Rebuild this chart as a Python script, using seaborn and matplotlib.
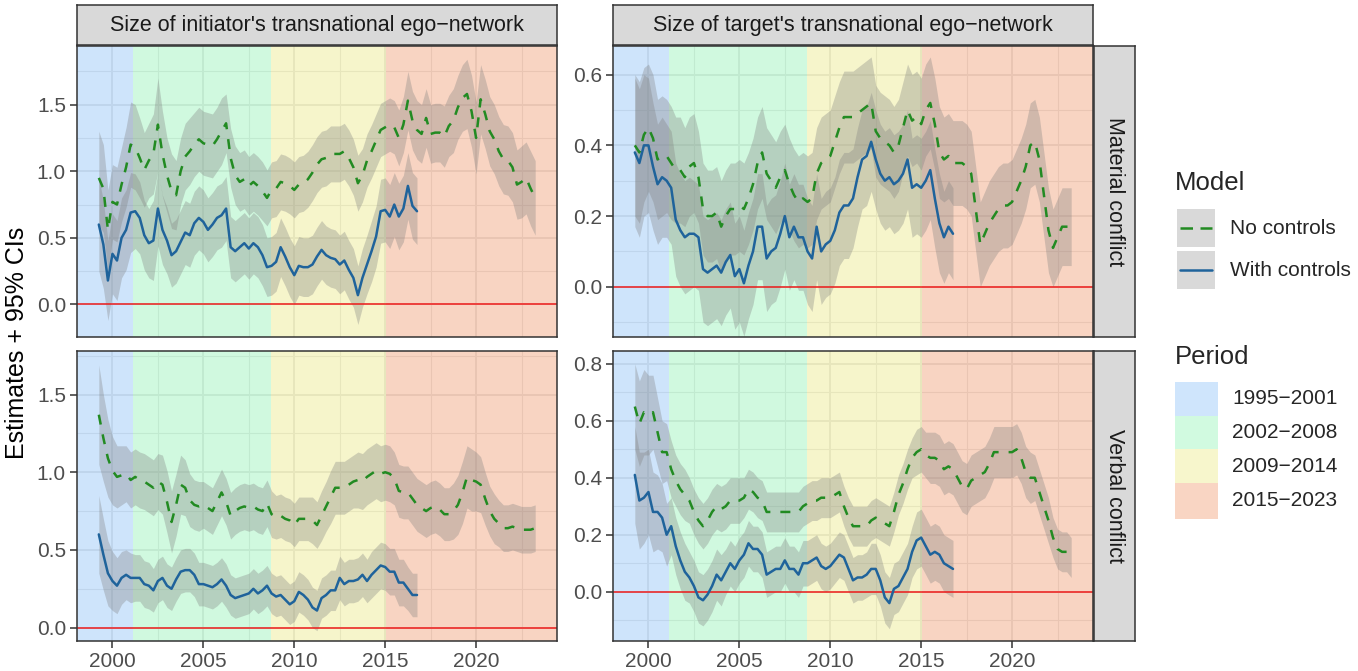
import numpy as np
import pandas as pd
import matplotlib
matplotlib.use("Agg")
import matplotlib.pyplot as plt
import seaborn as sns
from matplotlib.patches import Rectangle
from matplotlib.lines import Line2D
from matplotlib.ticker import FixedLocator, FormatStrFormatter

sns.set_theme(style="white")
plt.rcParams['font.family'] = ['Liberation Sans', 'DejaVu Sans']

# ---------------- data (quarterly estimates) ----------------
start_year = 1999.25
models = ["No controls", "With controls"]
periods = ["1995\u22122001", "2002\u22122008", "2009\u22122014", "2015\u22122023"]
period_breaks = [2001.14, 2008.70, 2015.04]
col_titles = ["Size of initiator's transnational ego\u2212network",
              "Size of target's transnational ego\u2212network"]
row_titles = ["Material conflict", "Verbal conflict"]

# initiator / material conflict
init_mat_noctrl = [0.95, 0.87, 0.56, 0.77, 0.75, 0.90, 1.03, 1.20, 1.18, 1.10,
                   1.01, 1.08, 1.13, 1.35, 1.13, 0.97, 0.85, 0.82, 1.00, 1.11,
                   1.15, 1.20, 1.24, 1.21, 1.20, 1.19, 1.24, 1.30, 1.36, 1.10,
                   0.97, 0.92, 0.94, 0.89, 0.92, 0.89, 0.85, 0.80, 0.86, 0.87,
                   0.92, 0.91, 0.89, 0.86, 0.90, 0.91, 0.94, 0.99, 1.05, 1.09,
                   1.10, 1.13, 1.13, 1.13, 1.15, 1.10, 1.03, 0.91, 0.97, 1.08,
                   1.15, 1.23, 1.31, 1.33, 1.35, 1.33, 1.25, 1.35, 1.53, 1.38,
                   1.31, 1.28, 1.40, 1.28, 1.29, 1.29, 1.26, 1.34, 1.38, 1.48,
                   1.55, 1.58, 1.45, 1.25, 1.54, 1.43, 1.30, 1.24, 1.15, 1.09,
                   1.08, 1.03, 0.90, 0.92, 0.95, 0.87, 0.80]
init_mat_noctrl_hw = [0.35, 0.33, 0.30, 0.28, 0.28, 0.28, 0.30, 0.32, 0.32, 0.30,
                      0.28, 0.28, 0.30, 0.35, 0.32, 0.28, 0.28, 0.26, 0.25, 0.25,
                      0.25, 0.24, 0.24, 0.24, 0.24, 0.24, 0.24, 0.25, 0.22, 0.22,
                      0.22, 0.22, 0.22, 0.22, 0.22, 0.22, 0.22, 0.21, 0.21, 0.21,
                      0.21, 0.21, 0.21, 0.21, 0.21, 0.21, 0.21, 0.21, 0.21, 0.21,
                      0.21, 0.21, 0.21, 0.21, 0.21, 0.21, 0.21, 0.21, 0.20, 0.20,
                      0.20, 0.20, 0.20, 0.20, 0.20, 0.20, 0.21, 0.21, 0.22, 0.22,
                      0.22, 0.22, 0.22, 0.22, 0.22, 0.22, 0.23, 0.23, 0.24, 0.24,
                      0.25, 0.26, 0.27, 0.27, 0.26, 0.26, 0.26, 0.26, 0.26, 0.26,
                      0.26, 0.26, 0.26, 0.27, 0.27, 0.28, 0.28]
init_mat_ctrl = [0.60, 0.45, 0.18, 0.38, 0.33, 0.50, 0.56, 0.69, 0.70, 0.65,
                 0.52, 0.46, 0.48, 0.72, 0.56, 0.48, 0.37, 0.40, 0.47, 0.54,
                 0.52, 0.61, 0.65, 0.62, 0.56, 0.60, 0.65, 0.67, 0.72, 0.43,
                 0.40, 0.43, 0.46, 0.42, 0.46, 0.43, 0.37, 0.28, 0.29, 0.32,
                 0.43, 0.36, 0.28, 0.22, 0.29, 0.28, 0.28, 0.30, 0.36, 0.41,
                 0.37, 0.35, 0.34, 0.30, 0.33, 0.26, 0.20, 0.07, 0.20, 0.30,
                 0.40, 0.51, 0.70, 0.71, 0.66, 0.75, 0.66, 0.72, 0.89, 0.74,
                 0.70]
init_mat_ctrl_hw = [0.35, 0.33, 0.30, 0.30, 0.30, 0.30, 0.30, 0.30, 0.28, 0.27,
                    0.26, 0.26, 0.30, 0.28, 0.26, 0.25, 0.24, 0.24, 0.24, 0.24,
                    0.24, 0.24, 0.24, 0.24, 0.24, 0.24, 0.24, 0.24, 0.24, 0.23,
                    0.23, 0.23, 0.23, 0.23, 0.23, 0.23, 0.23, 0.22, 0.22, 0.22,
                    0.22, 0.22, 0.22, 0.22, 0.22, 0.22, 0.22, 0.22, 0.22, 0.22,
                    0.22, 0.22, 0.22, 0.22, 0.22, 0.22, 0.22, 0.22, 0.22, 0.22,
                    0.23, 0.23, 0.24, 0.24, 0.24, 0.24, 0.25, 0.25, 0.25, 0.25,
                    0.25]

# target / material conflict
targ_mat_noctrl = [0.40, 0.38, 0.43, 0.45, 0.42, 0.36, 0.37, 0.37, 0.35, 0.33,
                   0.33, 0.31, 0.34, 0.35, 0.31, 0.22, 0.20, 0.20, 0.21, 0.17,
                   0.20, 0.22, 0.22, 0.23, 0.22, 0.25, 0.29, 0.35, 0.38, 0.32,
                   0.30, 0.28, 0.31, 0.33, 0.29, 0.26, 0.24, 0.25, 0.24, 0.25,
                   0.32, 0.35, 0.36, 0.37, 0.41, 0.45, 0.48, 0.48, 0.48, 0.49,
                   0.50, 0.51, 0.52, 0.44, 0.42, 0.41, 0.40, 0.38, 0.40, 0.45,
                   0.50, 0.47, 0.48, 0.46, 0.50, 0.52, 0.46, 0.38, 0.36, 0.37,
                   0.35, 0.35, 0.35, 0.34, 0.32, 0.22, 0.12, 0.15, 0.18, 0.20,
                   0.22, 0.23, 0.23, 0.24, 0.27, 0.30, 0.34, 0.40, 0.41, 0.36,
                   0.26, 0.16, 0.11, 0.14, 0.17, 0.17, 0.17]
targ_mat_noctrl_hw = [0.20, 0.20, 0.19, 0.18, 0.18, 0.17, 0.17, 0.16, 0.16, 0.15,
                      0.15, 0.14, 0.14, 0.14, 0.13, 0.13, 0.13, 0.13, 0.13, 0.13,
                      0.13, 0.13, 0.13, 0.13, 0.13, 0.13, 0.13, 0.13, 0.13, 0.13,
                      0.13, 0.13, 0.13, 0.13, 0.13, 0.13, 0.13, 0.13, 0.13, 0.13,
                      0.13, 0.13, 0.13, 0.13, 0.13, 0.13, 0.13, 0.13, 0.13, 0.13,
                      0.13, 0.13, 0.13, 0.13, 0.13, 0.13, 0.13, 0.13, 0.13, 0.13,
                      0.13, 0.13, 0.13, 0.13, 0.13, 0.13, 0.13, 0.13, 0.12, 0.12,
                      0.12, 0.12, 0.12, 0.12, 0.12, 0.12, 0.12, 0.12, 0.12, 0.12,
                      0.12, 0.12, 0.12, 0.12, 0.12, 0.12, 0.12, 0.12, 0.12, 0.12,
                      0.12, 0.12, 0.11, 0.11, 0.11, 0.11, 0.11]
targ_mat_ctrl = [0.38, 0.35, 0.40, 0.40, 0.34, 0.29, 0.31, 0.30, 0.28, 0.19,
                 0.16, 0.14, 0.15, 0.15, 0.14, 0.05, 0.04, 0.05, 0.06, 0.04,
                 0.07, 0.09, 0.03, 0.05, 0.01, 0.06, 0.10, 0.17, 0.17, 0.08,
                 0.10, 0.11, 0.15, 0.20, 0.14, 0.17, 0.14, 0.14, 0.10, 0.08,
                 0.17, 0.10, 0.12, 0.13, 0.16, 0.21, 0.23, 0.23, 0.25, 0.31,
                 0.36, 0.37, 0.41, 0.36, 0.32, 0.30, 0.31, 0.29, 0.30, 0.32,
                 0.36, 0.28, 0.29, 0.28, 0.30, 0.33, 0.25, 0.18, 0.14, 0.17,
                 0.15]
targ_mat_ctrl_hw = [0.21, 0.21, 0.20, 0.19, 0.18, 0.17, 0.17, 0.16, 0.16, 0.16,
                    0.16, 0.16, 0.16, 0.15, 0.15, 0.15, 0.15, 0.15, 0.15, 0.15,
                    0.15, 0.15, 0.15, 0.15, 0.15, 0.15, 0.15, 0.15, 0.15, 0.15,
                    0.15, 0.15, 0.15, 0.15, 0.15, 0.15, 0.15, 0.15, 0.15, 0.15,
                    0.15, 0.15, 0.15, 0.15, 0.15, 0.15, 0.15, 0.15, 0.14, 0.14,
                    0.14, 0.14, 0.14, 0.14, 0.14, 0.14, 0.14, 0.14, 0.14, 0.14,
                    0.14, 0.14, 0.14, 0.14, 0.14, 0.14, 0.14, 0.14, 0.13, 0.13,
                    0.13]

# initiator / verbal conflict
init_verb_noctrl = [1.37, 1.22, 1.09, 1.01, 0.97, 0.98, 0.99, 0.95, 0.97, 0.95,
                    0.94, 0.92, 0.90, 0.94, 0.92, 0.81, 0.68, 0.79, 0.92, 0.90,
                    0.82, 0.79, 0.78, 0.79, 0.77, 0.75, 0.81, 0.87, 0.81, 0.72,
                    0.75, 0.77, 0.78, 0.77, 0.78, 0.76, 0.75, 0.80, 0.73, 0.71,
                    0.72, 0.70, 0.69, 0.66, 0.70, 0.70, 0.70, 0.69, 0.66, 0.72,
                    0.78, 0.84, 0.90, 0.90, 0.90, 0.92, 0.94, 0.95, 0.94, 0.97,
                    0.99, 1.01, 0.99, 1.00, 0.99, 0.96, 0.88, 0.87, 0.87, 0.83,
                    0.79, 0.77, 0.75, 0.77, 0.78, 0.76, 0.73, 0.73, 0.75, 0.79,
                    0.87, 0.97, 0.95, 0.94, 0.92, 0.83, 0.75, 0.70, 0.67, 0.64,
                    0.64, 0.65, 0.64, 0.63, 0.63, 0.63, 0.64]
init_verb_noctrl_hw = [0.32, 0.28, 0.25, 0.22, 0.20, 0.19, 0.18, 0.18, 0.18, 0.18,
                       0.18, 0.18, 0.18, 0.18, 0.19, 0.20, 0.20, 0.20, 0.19, 0.18,
                       0.17, 0.16, 0.16, 0.15, 0.15, 0.15, 0.15, 0.15, 0.15, 0.15,
                       0.15, 0.15, 0.15, 0.15, 0.15, 0.15, 0.15, 0.15, 0.15, 0.14,
                       0.14, 0.14, 0.14, 0.14, 0.14, 0.14, 0.14, 0.15, 0.15, 0.16,
                       0.16, 0.17, 0.17, 0.17, 0.17, 0.17, 0.17, 0.18, 0.18, 0.18,
                       0.18, 0.18, 0.18, 0.18, 0.18, 0.17, 0.17, 0.17, 0.17, 0.17,
                       0.17, 0.17, 0.17, 0.17, 0.17, 0.17, 0.17, 0.17, 0.18, 0.19,
                       0.20, 0.20, 0.20, 0.19, 0.18, 0.17, 0.16, 0.16, 0.15, 0.15,
                       0.15, 0.15, 0.15, 0.15, 0.15, 0.15, 0.15]
init_verb_ctrl = [0.60, 0.47, 0.35, 0.30, 0.27, 0.32, 0.34, 0.32, 0.32, 0.32,
                  0.28, 0.27, 0.24, 0.30, 0.32, 0.27, 0.25, 0.31, 0.36, 0.37,
                  0.37, 0.34, 0.28, 0.28, 0.27, 0.26, 0.28, 0.31, 0.27, 0.21,
                  0.19, 0.20, 0.21, 0.22, 0.25, 0.22, 0.24, 0.27, 0.22, 0.20,
                  0.21, 0.18, 0.15, 0.17, 0.23, 0.21, 0.18, 0.13, 0.11, 0.19,
                  0.21, 0.24, 0.24, 0.32, 0.28, 0.30, 0.30, 0.31, 0.34, 0.30,
                  0.34, 0.37, 0.40, 0.39, 0.36, 0.36, 0.29, 0.29, 0.25, 0.21,
                  0.21]
init_verb_ctrl_hw = [0.25, 0.23, 0.21, 0.19, 0.18, 0.17, 0.16, 0.16, 0.15, 0.15,
                     0.15, 0.15, 0.14, 0.14, 0.14, 0.14, 0.14, 0.14, 0.14, 0.14,
                     0.14, 0.14, 0.14, 0.14, 0.14, 0.14, 0.14, 0.14, 0.14, 0.13,
                     0.13, 0.13, 0.13, 0.13, 0.13, 0.13, 0.13, 0.13, 0.13, 0.13,
                     0.13, 0.13, 0.13, 0.13, 0.13, 0.13, 0.13, 0.13, 0.13, 0.13,
                     0.13, 0.13, 0.13, 0.14, 0.14, 0.14, 0.14, 0.14, 0.14, 0.14,
                     0.15, 0.15, 0.15, 0.15, 0.15, 0.15, 0.15, 0.15, 0.14, 0.14,
                     0.14]

# target / verbal conflict
targ_verb_noctrl = [0.65, 0.59, 0.63, 0.62, 0.63, 0.56, 0.49, 0.49, 0.43, 0.39,
                    0.36, 0.34, 0.32, 0.28, 0.25, 0.23, 0.25, 0.28, 0.30, 0.29,
                    0.30, 0.32, 0.32, 0.32, 0.33, 0.36, 0.35, 0.33, 0.32, 0.28,
                    0.28, 0.28, 0.28, 0.28, 0.28, 0.28, 0.28, 0.30, 0.31, 0.32,
                    0.32, 0.33, 0.33, 0.33, 0.34, 0.35, 0.30, 0.26, 0.23, 0.23,
                    0.23, 0.23, 0.25, 0.26, 0.25, 0.24, 0.23, 0.28, 0.34, 0.38,
                    0.43, 0.47, 0.49, 0.50, 0.48, 0.47, 0.47, 0.46, 0.43, 0.44,
                    0.43, 0.40, 0.37, 0.36, 0.39, 0.40, 0.41, 0.42, 0.45, 0.49,
                    0.49, 0.49, 0.49, 0.49, 0.50, 0.47, 0.42, 0.40, 0.40, 0.35,
                    0.30, 0.25, 0.19, 0.15, 0.14, 0.14, 0.12]
targ_verb_noctrl_hw = [0.15, 0.15, 0.15, 0.14, 0.13, 0.12, 0.11, 0.10, 0.10, 0.09,
                       0.09, 0.09, 0.08, 0.08, 0.08, 0.08, 0.08, 0.08, 0.08, 0.08,
                       0.08, 0.08, 0.08, 0.08, 0.07, 0.07, 0.07, 0.07, 0.07, 0.07,
                       0.07, 0.07, 0.07, 0.07, 0.07, 0.07, 0.07, 0.07, 0.07, 0.07,
                       0.07, 0.07, 0.07, 0.07, 0.07, 0.07, 0.07, 0.07, 0.07, 0.07,
                       0.07, 0.07, 0.07, 0.07, 0.07, 0.07, 0.07, 0.07, 0.07, 0.07,
                       0.07, 0.07, 0.08, 0.08, 0.08, 0.09, 0.09, 0.09, 0.09, 0.09,
                       0.09, 0.09, 0.09, 0.09, 0.09, 0.09, 0.09, 0.09, 0.09, 0.09,
                       0.09, 0.09, 0.09, 0.09, 0.09, 0.09, 0.09, 0.09, 0.08, 0.08,
                       0.08, 0.08, 0.07, 0.07, 0.07, 0.07, 0.07]
targ_verb_ctrl = [0.41, 0.32, 0.33, 0.35, 0.28, 0.28, 0.26, 0.20, 0.23, 0.16,
                  0.11, 0.07, 0.05, 0.02, -0.02, -0.03, -0.01, 0.02, 0.06, 0.04,
                  0.07, 0.10, 0.08, 0.11, 0.13, 0.17, 0.15, 0.15, 0.13, 0.06,
                  0.07, 0.08, 0.08, 0.11, 0.08, 0.08, 0.06, 0.10, 0.10, 0.11,
                  0.12, 0.09, 0.08, 0.09, 0.11, 0.13, 0.12, 0.08, 0.04, 0.05,
                  0.05, 0.06, 0.08, 0.08, 0.04, -0.02, -0.04, 0.01, 0.02, 0.05,
                  0.08, 0.14, 0.18, 0.19, 0.16, 0.13, 0.14, 0.13, 0.10, 0.09,
                  0.08]
targ_verb_ctrl_hw = [0.17, 0.17, 0.16, 0.15, 0.14, 0.13, 0.12, 0.11, 0.10, 0.10,
                     0.10, 0.10, 0.09, 0.09, 0.09, 0.09, 0.09, 0.09, 0.09, 0.09,
                     0.08, 0.08, 0.08, 0.08, 0.08, 0.08, 0.08, 0.08, 0.08, 0.08,
                     0.08, 0.08, 0.08, 0.08, 0.08, 0.08, 0.08, 0.08, 0.08, 0.08,
                     0.08, 0.08, 0.08, 0.08, 0.08, 0.08, 0.08, 0.08, 0.08, 0.08,
                     0.08, 0.08, 0.09, 0.09, 0.09, 0.09, 0.09, 0.09, 0.09, 0.09,
                     0.09, 0.09, 0.10, 0.10, 0.10, 0.10, 0.10, 0.10, 0.10, 0.10,
                     0.10]

panels = {
    (0, 0): (init_mat_noctrl, init_mat_noctrl_hw, init_mat_ctrl, init_mat_ctrl_hw),
    (0, 1): (targ_mat_noctrl, targ_mat_noctrl_hw, targ_mat_ctrl, targ_mat_ctrl_hw),
    (1, 0): (init_verb_noctrl, init_verb_noctrl_hw, init_verb_ctrl, init_verb_ctrl_hw),
    (1, 1): (targ_verb_noctrl, targ_verb_noctrl_hw, targ_verb_ctrl, targ_verb_ctrl_hw),
}

# ---------------- styling ----------------
line_colors = {"No controls": "#228B22", "With controls": "#1f639b"}
line_dashes = {"No controls": (4, 4), "With controls": ""}
period_fill = ["#9fcbf9", "#a3f5c1", "#efed99", "#f3ab87"]   # drawn at alpha 0.5
period_key = ["#cfe5fc", "#d1fae0", "#f7f6cc", "#f9d5c3"]
ribbon_color = "#7f7f7f"
frame_col = "#333333"
lw_line = 1.8

W, H = 1358, 671
fig = plt.figure(figsize=(W / 100, H / 100), dpi=100)


def px_box(x0, y0, x1, y1):
    return [x0 / W, 1 - y1 / H, (x1 - x0) / W, (y1 - y0) / H]


col_x = [(77, 557), (613, 1093)]
row_y = [(46, 337), (351, 641)]
xlim = (1998.05, 2024.45)
ylims = {(0, 0): (-0.244, 1.94), (0, 1): (-0.142, 0.681),
         (1, 0): (-0.086, 1.78), (1, 1): (-0.173, 0.845)}
yticks = {(0, 0): [0, 0.5, 1.0, 1.5], (0, 1): [0, 0.2, 0.4, 0.6],
          (1, 0): [0, 0.5, 1.0, 1.5], (1, 1): [0, 0.2, 0.4, 0.6, 0.8]}
yminor = {(0, 0): [0.25, 0.75, 1.25, 1.75], (0, 1): [-0.1, 0.1, 0.3, 0.5],
          (1, 0): [0.25, 0.75, 1.25, 1.75], (1, 1): [-0.1, 0.1, 0.3, 0.5, 0.7]}
xmajor = [2000, 2005, 2010, 2015, 2020]
xminor = [1997.5, 2002.5, 2007.5, 2012.5, 2017.5, 2022.5]

for (r, c), (nc, nc_hw, wc, wc_hw) in panels.items():
    x0, x1 = col_x[c]
    y0, y1 = row_y[r]
    ax = fig.add_axes(px_box(x0, y0, x1, y1))
    ax.set_facecolor("white")
    ax.set_xlim(*xlim)
    ax.set_ylim(*ylims[(r, c)])

    # grid
    ax.set_axisbelow(True)
    ax.xaxis.set_major_locator(FixedLocator(xmajor))
    ax.xaxis.set_minor_locator(FixedLocator(xminor))
    ax.yaxis.set_major_locator(FixedLocator(yticks[(r, c)]))
    ax.yaxis.set_minor_locator(FixedLocator(yminor[(r, c)]))
    ax.yaxis.set_major_formatter(FormatStrFormatter("%.1f"))
    ax.grid(True, which="major", color="#e0e0e0", linewidth=1.4)
    ax.grid(True, which="minor", color="#e0e0e0", linewidth=0.8)

    # period bands
    edges = [xlim[0]] + period_breaks + [xlim[1]]
    for k in range(4):
        ax.axvspan(edges[k], edges[k + 1], color=period_fill[k], alpha=0.5,
                   lw=0, zorder=1)

    # ribbons
    for est, hw in ((nc, nc_hw), (wc, wc_hw)):
        est = np.array(est)
        hw = np.array(hw)
        yrs = start_year + 0.25 * np.arange(len(est))
        ax.fill_between(yrs, est - hw, est + hw, color=ribbon_color,
                        alpha=0.33, lw=0, zorder=2)

    ax.axhline(0, color="#ee1c1c", lw=1.1, zorder=2.5)

    frames = []
    for name, est in (("No controls", nc), ("With controls", wc)):
        frames.append(pd.DataFrame({
            "year": start_year + 0.25 * np.arange(len(est)),
            "estimate": est,
            "model": name,
        }))
    df = pd.concat(frames, ignore_index=True)
    sns.lineplot(data=df, x="year", y="estimate", hue="model", style="model",
                 palette=line_colors, dashes=line_dashes, linewidth=lw_line,
                 errorbar=None, legend=False, ax=ax, zorder=3)
    ax.set_xlabel("")
    ax.set_ylabel("")

    for s in ax.spines.values():
        s.set_color(frame_col)
        s.set_linewidth(1.1)
        s.set_zorder(5)

    ax.tick_params(which="minor", length=0)
    ax.tick_params(axis="y", which="major", length=5, width=1.1, color=frame_col,
                   labelsize=15, labelcolor="#4d4d4d", pad=3, left=True)
    if r == 1:
        ax.tick_params(axis="x", which="major", length=5, width=1.1,
                       color=frame_col, labelsize=15, labelcolor="#4d4d4d",
                       pad=3, bottom=True)
    else:
        ax.tick_params(axis="x", which="major", length=0, labelbottom=False)

# strips
for c in range(2):
    x0, x1 = col_x[c]
    sax = fig.add_axes(px_box(x0, 5, x1, 45))
    sax.set_facecolor("#d9d9d9")
    sax.set_xticks([])
    sax.set_yticks([])
    for s in sax.spines.values():
        s.set_color(frame_col)
        s.set_linewidth(1.1)
    sax.text(0.5, 0.5, col_titles[c], ha="center", va="center", fontsize=15.5,
             color="#1a1a1a", transform=sax.transAxes)

for r in range(2):
    y0, y1 = row_y[r]
    sax = fig.add_axes(px_box(1094, y0, 1135, y1))
    sax.set_facecolor("#d9d9d9")
    sax.set_xticks([])
    sax.set_yticks([])
    for s in sax.spines.values():
        s.set_color(frame_col)
        s.set_linewidth(1.1)
    sax.text(0.5, 0.5, row_titles[r], ha="center", va="center", fontsize=15.5,
             color="#1a1a1a", rotation=-90, transform=sax.transAxes)

# y label
fig.text(17 / W, 1 - 343 / H, "Estimates + 95% CIs", rotation=90,
         ha="center", va="center", fontsize=18, color="black")


# legends (drawn in pixel space)
def fx(x):
    return x / W


def fy(y):
    return 1 - y / H


fig.text(fx(1175), fy(183), "Model", ha="left", va="center", fontsize=18.5)
key_rows = [(209, 247), (251, 289)]
for name, (ky0, ky1) in zip(models, key_rows):
    fig.add_artist(Rectangle((fx(1177), fy(ky1)), (1215 - 1177) / W,
                             (ky1 - ky0) / H, transform=fig.transFigure,
                             facecolor="#d9d9d9", edgecolor="none"))
    ym = fy((ky0 + ky1) / 2)
    fig.add_artist(Line2D([fx(1180), fx(1212)], [ym, ym],
                          transform=fig.transFigure, color=line_colors[name],
                          lw=lw_line,
                          dashes=(5, 3) if name == "No controls" else (None, None)))
    fig.text(fx(1230), ym, name, ha="left", va="center", fontsize=15)

fig.text(fx(1175), fy(357), "Period", ha="left", va="center", fontsize=18.5)
pkeys = [(382, 416), (416, 449), (449, 483), (483, 519)]
for lab, col, (ky0, ky1) in zip(periods, period_key, pkeys):
    fig.add_artist(Rectangle((fx(1175), fy(ky1)), (1218 - 1175) / W,
                             (ky1 - ky0) / H, transform=fig.transFigure,
                             facecolor=col, edgecolor="none"))
    fig.text(fx(1232), fy((ky0 + ky1) / 2), lab, ha="left", va="center",
             fontsize=15)

fig.savefig("out.png", dpi=100)
